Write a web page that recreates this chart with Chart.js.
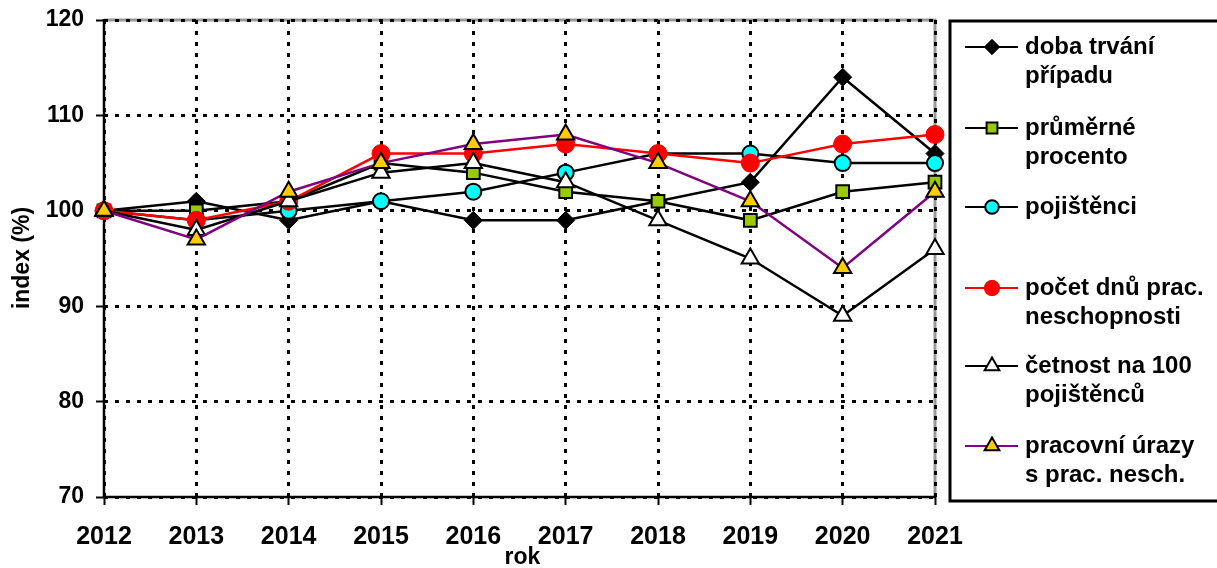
<!DOCTYPE html>
<html>
<head>
<meta charset="utf-8">
<script src="https://cdn.jsdelivr.net/npm/chart.js@4/dist/chart.umd.min.js"></script>
<style>
html,body{margin:0;padding:0;background:#fff;}
#wrap{width:1217px;height:568px;position:relative;}
</style>
</head>
<body>
<div id="wrap"><canvas id="c" width="1217" height="568"></canvas></div>
<script>
const years = ['2012','2013','2014','2015','2016','2017','2018','2019','2020','2021'];
const dobaTrvani = [100,101,99,101,99,99,101,103,114,106];
const prumerneProcento = [100,100,101,105,104,102,101,99,102,103];
const pojistenci = [100,99,100,101,102,104,106,106,105,105];
const pocetDnu = [100,99,101,106,106,107,106,105,107,108];
const cetnost = [100,98,101,104,105,103,99,95,89,96];
const pracovniUrazy = [100,97,102,105,107,108,105,101,94,102];
const yTicks = [70,80,90,100,110,120];
const legendLabels = [
  ['doba trvání','případu'],
  ['průměrné','procento'],
  ['pojištěnci'],
  ['počet dnů prac.','neschopnosti'],
  ['četnost na 100','pojištěnců'],
  ['pracovní úrazy','s prac. nesch.']
];
const FONT = '"Liberation Sans", Arial, sans-serif';

const datasets = [
  {label: legendLabels[0].join(' '), data: dobaTrvani, borderColor:'#000', pointStyle:'rectRot', pointRadius:9, pointBackgroundColor:'#000', pointBorderColor:'#000', pointBorderWidth:1, order:5},
  {label: legendLabels[1].join(' '), data: prumerneProcento, borderColor:'#000', pointStyle:'rect', pointRadius:9, pointBackgroundColor:'#99CC00', pointBorderColor:'#000', pointBorderWidth:2, order:4},
  {label: legendLabels[2].join(' '), data: pojistenci, borderColor:'#000', pointStyle:'circle', pointRadius:8, pointBackgroundColor:'#00FFFF', pointBorderColor:'#000', pointBorderWidth:2, order:3},
  {label: legendLabels[3].join(' '), data: pocetDnu, borderColor:'#FF0000', pointStyle:'circle', pointRadius:9, pointBackgroundColor:'#FF0000', pointBorderColor:'#FF0000', pointBorderWidth:1, order:2},
  {label: legendLabels[4].join(' '), data: cetnost, borderColor:'#000', pointStyle:'triangle', pointRadius:10, pointBackgroundColor:'#FFFFFF', pointBorderColor:'#000', pointBorderWidth:2, order:1},
  {label: legendLabels[5].join(' '), data: pracovniUrazy, borderColor:'#800080', pointStyle:'triangle', pointRadius:10, pointBackgroundColor:'#FFCC00', pointBorderColor:'#000', pointBorderWidth:2, order:0}
];
datasets.forEach(d => { d.borderWidth = 2.5; d.tension = 0; d.fill = false; d.pointHoverRadius = d.pointRadius; });

const framePlugin = {
  id: 'frame',
  beforeDraw(chart) {
    const {ctx, chartArea:a} = chart;
    ctx.save();
    ctx.strokeStyle = '#999999';
    ctx.lineWidth = 3;
    ctx.beginPath();
    ctx.moveTo(a.left, a.top); ctx.lineTo(a.right, a.top); ctx.lineTo(a.right, a.bottom);
    ctx.stroke();
    ctx.restore();
  },
  beforeDatasetsDraw(chart) {
    const {ctx, chartArea:a} = chart;
    ctx.save();
    ctx.setLineDash([]);
    ctx.strokeStyle = '#000';
    ctx.lineWidth = 2.5;
    ctx.beginPath();
    ctx.moveTo(a.left, a.top - 1); ctx.lineTo(a.left, a.bottom); ctx.lineTo(a.right, a.bottom);
    ctx.stroke();
    ctx.restore();
  },
  afterDraw(chart) {
    const ctx = chart.ctx;
    const a = chart.chartArea;
    ctx.save();
    ctx.fillStyle = '#000';
    ctx.font = 'bold 23px ' + FONT;
    ctx.textAlign = 'center';
    ctx.textBaseline = 'middle';
    ctx.save();
    ctx.translate(23, 258);
    ctx.rotate(-Math.PI / 2);
    ctx.fillText('index (%)', 0, 0);
    ctx.restore();
    ctx.fillText('rok', (a.left + a.right) / 2 + 3, 558);
    ctx.strokeStyle = '#000';
    ctx.lineWidth = 3;
    ctx.strokeRect(950, 21, 300, 480);
    const rowY = [47, 128, 207, 288, 366, 446];
    ctx.font = 'bold 24px ' + FONT;
    ctx.textAlign = 'left';
    chart.data.datasets.forEach((ds, i) => {
      const y = rowY[i];
      ctx.strokeStyle = ds.borderColor;
      ctx.lineWidth = 2;
      ctx.beginPath(); ctx.moveTo(965, y); ctx.lineTo(1018, y); ctx.stroke();
      ctx.fillStyle = ds.pointBackgroundColor;
      ctx.strokeStyle = ds.pointBorderColor;
      ctx.lineWidth = ds.pointBorderWidth;
      Chart.helpers.drawPoint(ctx, {pointStyle: ds.pointStyle, radius: ds.pointRadius * 0.85, borderWidth: ds.pointBorderWidth, rotation: 0}, 992, y);
      ctx.fillStyle = '#000';
      legendLabels[i].forEach((t, k) => ctx.fillText(t, 1025, y + k * 29));
    });
    ctx.restore();
  }
};

new Chart(document.getElementById('c'), {
  type: 'line',
  data: {labels: years, datasets},
  plugins: [framePlugin],
  options: {
    responsive: false,
    animation: false,
    layout: {padding: {top: 20, right: 282, left: 0, bottom: 0}},
    plugins: {legend: {display: false}, tooltip: {enabled: false}},
    scales: {
      x: {
        type: 'category',
        offset: false,
        afterFit(s) { s.height = 71; s.paddingLeft = 0; s.paddingRight = 0; },
        grid: {color: '#000', lineWidth: 3, drawTicks: true, tickLength: 8, tickColor: '#000', tickWidth: 2},
        border: {display: false, dash: [4, 7]},
        ticks: {color: '#000', font: {family: FONT, size: 25, weight: 'bold'}, padding: 17, maxRotation: 0, autoSkip: false}
      },
      y: {
        min: 70, max: 120,
        afterFit(s) { s.width = 104; s.paddingTop = 0; s.paddingBottom = 0; },
        afterBuildTicks(s) { s.ticks = yTicks.map(v => ({value: v})); },
        grid: {color: '#000', lineWidth: 3, drawTicks: true, tickLength: 8, tickColor: '#000', tickWidth: 2},
        border: {display: false, dash: [4, 7]},
        ticks: {color: '#000', font: {family: FONT, size: 23, weight: 'bold'}, padding: 12}
      }
    }
  }
});
</script>
</body>
</html>
